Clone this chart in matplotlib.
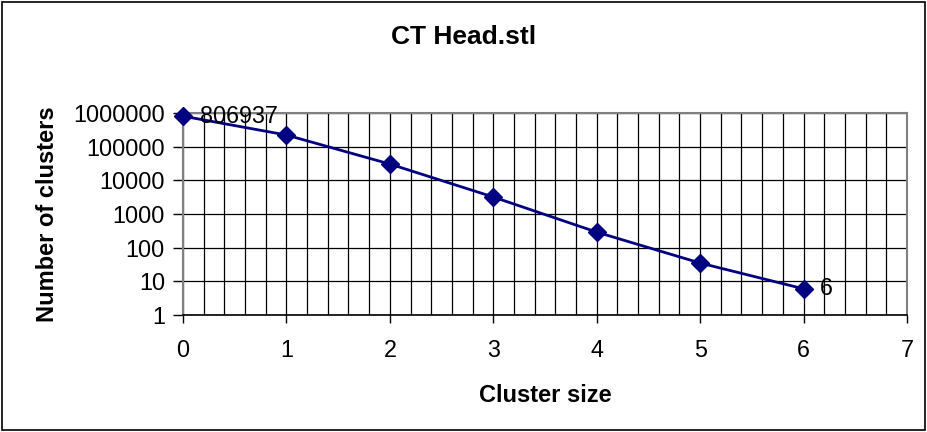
"""Recreate the 'CT Head.stl' cluster-count chart (Excel style, log y axis)."""

import matplotlib

matplotlib.use("Agg")

import matplotlib.pyplot as plt
from matplotlib.patches import Rectangle
from matplotlib.ticker import FixedLocator, MultipleLocator

plt.rcParams["font.family"] = ["Liberation Sans", "DejaVu Sans"]

# Data
cluster_size = [0, 1, 2, 3, 4, 5, 6]
num_clusters = [806937, 222000, 30500, 3200, 290, 35, 6]
y_ticks = [1, 10, 100, 1000, 10000, 100000, 1000000]
y_tick_labels = ["1", "10", "100", "1000", "10000", "100000", "1000000"]
labelled = {0: "806937", 6: "6"}

navy = "#000080"

fig = plt.figure(figsize=(9.27, 4.32), dpi=100)
ax = fig.add_axes([0.1974, 0.2708, 0.9784 - 0.1974, 0.7384 - 0.2708])

ax.set_yscale("log")
ax.set_xlim(0, 7)
ax.set_ylim(1, 1e6)

# Grid: decades horizontally, every 0.2 vertically
ax.xaxis.set_major_locator(MultipleLocator(1))
ax.xaxis.set_minor_locator(MultipleLocator(0.2))
ax.yaxis.set_major_locator(FixedLocator(y_ticks))
ax.yaxis.set_minor_locator(FixedLocator([]))
ax.set_yticklabels(y_tick_labels)
ax.grid(True, which="major", color="black", linewidth=0.9)
ax.grid(True, which="minor", axis="x", color="black", linewidth=0.9)
ax.set_axisbelow(True)

ax.plot(cluster_size, num_clusters, color=navy, linewidth=2,
        marker="D", markersize=9, markerfacecolor=navy, markeredgecolor=navy,
        clip_on=False, zorder=5)

for i, text in labelled.items():
    ax.annotate(text, (cluster_size[i], num_clusters[i]), xytext=(12, 0),
                textcoords="offset points", va="center", ha="left",
                fontsize=16.8, zorder=6)

for side in ("top", "right", "left"):
    ax.spines[side].set_color("#808080")
    ax.spines[side].set_linewidth(1.5)
ax.spines["bottom"].set_color("black")
ax.spines["bottom"].set_linewidth(1.2)

ax.tick_params(axis="x", which="major", direction="out", length=6,
               width=1, labelsize=16.8, pad=11)
ax.tick_params(axis="x", which="minor", length=0)
ax.tick_params(axis="y", which="major", direction="out", length=7,
               width=1, labelsize=16.8, pad=6)

ax.set_xlabel("Cluster size", fontsize=17, fontweight="bold", labelpad=16)
ax.set_ylabel("Number of clusters", fontsize=17, fontweight="bold",
              labelpad=10)
fig.text(0.5, 1 - 37 / 432, "CT Head.stl", ha="center", va="center",
         fontsize=19, fontweight="bold")

# Outer chart-area border
fig.patches.append(Rectangle((2 / 927, 2 / 432), 923 / 927, 428 / 432,
                             transform=fig.transFigure, fill=False,
                             edgecolor="black", linewidth=1.2))

fig.savefig("out.png", dpi=100)
